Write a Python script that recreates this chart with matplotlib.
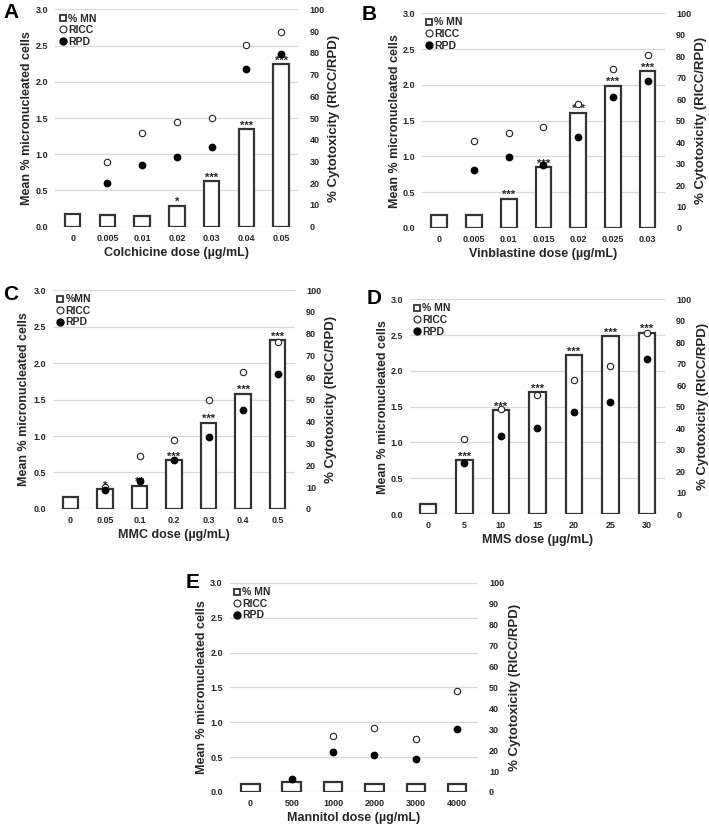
import numpy as np
import matplotlib
matplotlib.use("Agg")
import matplotlib.pyplot as plt
from matplotlib.lines import Line2D

plt.rcParams['font.family'] = ['Liberation Sans', 'DejaVu Sans']
plt.rcParams['font.weight'] = 'bold'

nan = np.nan

# A - colchicine
colch_doses = ["0", "0.005", "0.01", "0.02", "0.03", "0.04", "0.05"]
colch_mn = [0.17, 0.16, 0.15, 0.29, 0.63, 1.35, 2.24]
colch_ricc = [nan, 29.6, 42.9, 48.3, 49.8, 83.6, 89.6]
colch_rpd = [nan, 20.1, 28.4, 32.2, 36.8, 72.5, 79.4]
colch_sig = ["", "", "", "*", "***", "***", "***"]

# B - vinblastine
vinb_doses = ["0", "0.005", "0.01", "0.015", "0.02", "0.025", "0.03"]
vinb_mn = [0.18, 0.18, 0.41, 0.85, 1.61, 1.99, 2.19]
vinb_ricc = [nan, 40.3, 44.0, 47.1, 57.5, 74.2, 80.4]
vinb_rpd = [nan, 26.9, 33.1, 29.2, 42.5, 61.1, 68.3]
vinb_sig = ["", "", "***", "***", "***", "***", "***"]

# C - MMC
mmc_doses = ["0", "0.05", "0.1", "0.2", "0.3", "0.4", "0.5"]
mmc_mn = [0.16, 0.27, 0.32, 0.67, 1.18, 1.58, 2.31]
mmc_ricc = [nan, 9.9, 24.4, 31.5, 49.8, 62.7, 76.1]
mmc_rpd = [nan, 8.7, 12.9, 22.4, 33.0, 45.1, 61.6]
mmc_sig = ["", "*", "**", "***", "***", "***", "***"]

# D - MMS
mms_doses = ["0", "5", "10", "15", "20", "25", "30"]
mms_mn = [0.145, 0.75, 1.45, 1.70, 2.22, 2.48, 2.53]
mms_ricc = [nan, 34.7, 49.0, 55.2, 62.2, 69.1, 84.1]
mms_rpd = [nan, 23.8, 36.2, 40.1, 47.7, 52.3, 72.2]
mms_sig = ["", "***", "***", "***", "***", "***", "***"]

# E - mannitol
mann_doses = ["0", "500", "1000", "2000", "3000", "4000"]
mann_mn = [0.12, 0.145, 0.145, 0.12, 0.115, 0.12]
mann_ricc = [nan, nan, 27.0, 30.8, 25.4, 48.3]
mann_rpd = [nan, 6.4, 19.1, 17.5, 15.9, 30.3]
mann_sig = ["", "", "", "", "", ""]

fig = plt.figure(figsize=(7.09, 8.26), dpi=100)

EDGE = "#333333"
GRID = "#d9d9d9"
TXT = "#262626"


def panel(rect, letter, letter_xy, lab_x, doses, mn, ricc, rpd, sig, xlabel, mn_label):
    ax = fig.add_axes(rect)
    x = np.arange(len(doses))
    ax.bar(x, mn, width=0.45, facecolor="white", edgecolor=EDGE, linewidth=1.6, zorder=3)
    for xi, h, s in zip(x, mn, sig):
        if s:
            ax.text(xi, h - 0.02, s, ha="center", va="bottom", fontsize=8, color=TXT)
    ax.set_ylim(0, 3.0)
    ax.set_yticks(np.arange(0, 3.01, 0.5))
    ax.set_yticklabels(["%.1f" % v for v in np.arange(0, 3.01, 0.5)])
    ax.set_xlim(-0.5, len(doses) - 0.5)
    ax.set_xticks(x)
    ax.set_xticklabels(doses)
    ax.yaxis.grid(True, color=GRID, linewidth=0.9, zorder=0)
    ax.set_axisbelow(True)
    for sp in ax.spines.values():
        sp.set_visible(False)
    ax.tick_params(length=0, labelsize=6.5, pad=5, labelcolor=TXT)
    ax.set_ylabel("Mean % micronucleated cells", fontsize=9, fontweight="bold", color=TXT)
    ax.yaxis.label.set_verticalalignment("center")
    ax.yaxis.set_label_coords(lab_x, 0.5)
    ax.set_xlabel(xlabel, fontsize=9, fontweight="bold", labelpad=3, color=TXT)

    ax2 = ax.twinx()
    ax2.plot(x, ricc, "o", ms=4.6, mfc="white", mec="#222222", mew=0.8, zorder=4)
    ax2.plot(x, rpd, "o", ms=4.6, mfc="black", mec="black", zorder=4)
    ax2.set_ylim(0, 100)
    ax2.set_yticks(np.arange(0, 101, 10))
    for sp in ax2.spines.values():
        sp.set_visible(False)
    ax2.tick_params(length=0, labelsize=6.5, pad=8, labelcolor=TXT)
    ax2.set_ylabel("% Cytotoxicity (RICC/RPD)", fontsize=9.5, fontweight="bold", color=TXT)
    ax2.yaxis.label.set_verticalalignment("center")
    ax2.yaxis.set_label_coords(1.148, 0.5)

    handles = [
        Line2D([], [], ls="none", marker="s", ms=5, mfc="white", mec=EDGE, mew=1.3),
        Line2D([], [], ls="none", marker="o", ms=5, mfc="white", mec="#222222", mew=0.8),
        Line2D([], [], ls="none", marker="o", ms=5, mfc="black", mec="black"),
    ]
    leg = ax2.legend(handles, [mn_label, "RICC", "RPD"], loc="upper left", frameon=False,
                     fontsize=7.5, handlelength=0.6, handletextpad=0.2, labelspacing=0.15,
                     borderaxespad=0.2, borderpad=0.2)
    for t in leg.get_texts():
        t.set_color(TXT)
    fig.text(letter_xy[0], letter_xy[1], letter, fontsize=15, fontweight="bold",
             ha="left", va="center")


panel([0.078, 0.7256, 0.343, 0.263], "A", (0.005, 0.985), -0.115, colch_doses, colch_mn,
      colch_ricc, colch_rpd, colch_sig, "Colchicine dose (µg/mL)", "% MN")
panel([0.595, 0.724, 0.343, 0.260], "B", (0.510, 0.983), -0.112, vinb_doses, vinb_mn,
      vinb_ricc, vinb_rpd, vinb_sig, "Vinblastine dose (µg/mL)", "% MN")
panel([0.075, 0.3838, 0.341, 0.265], "C", (0.005, 0.643), -0.122, mmc_doses, mmc_mn,
      mmc_ricc, mmc_rpd, mmc_sig, "MMC dose (µg/mL)", "%MN")
panel([0.578, 0.3777, 0.360, 0.260], "D", (0.517, 0.639), -0.106, mms_doses, mms_mn,
      mms_ricc, mms_rpd, mms_sig, "MMS dose (µg/mL)", "% MN")
panel([0.324, 0.0412, 0.350, 0.253], "E", (0.262, 0.295), -0.113, mann_doses, mann_mn,
      mann_ricc, mann_rpd, mann_sig, "Mannitol dose (µg/mL)", "% MN")

fig.savefig("out.png", dpi=100)
